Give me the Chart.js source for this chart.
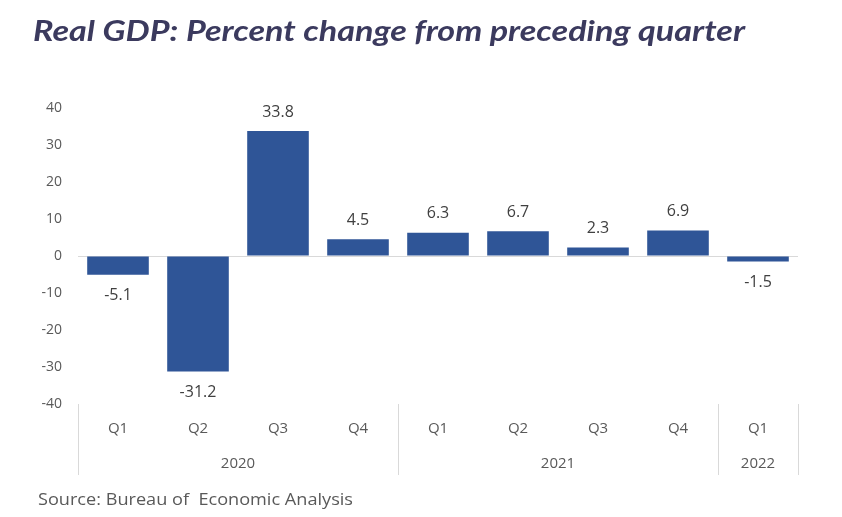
<!DOCTYPE html>
<html>
<head>
<meta charset="utf-8">
<script src="https://cdn.jsdelivr.net/npm/chart.js@4"></script>
<style>
  html,body{margin:0;padding:0;background:#fff;}
  #wrap{position:relative;width:842px;height:517px;}
  #title{position:absolute;left:33px;top:13px;font-family:Lato,"Open Sans",sans-serif;font-weight:700;font-style:italic;font-size:28px;color:#3B3A5E;white-space:nowrap;transform-origin:left top;}
  #source{position:absolute;left:38px;top:487px;font-family:"Open Sans",sans-serif;font-size:17px;color:#595959;white-space:pre;transform-origin:left top;}
  canvas{position:absolute;left:0;top:0;}
</style>
</head>
<body>
<div id="wrap">
  <canvas id="c" width="842" height="517"></canvas>
  <div id="title">Real GDP: Percent change from preceding quarter</div>
  <div id="source">Source: Bureau of  Economic Analysis</div>
</div>
<script>
const quarters = ["Q1","Q2","Q3","Q4","Q1","Q2","Q3","Q4","Q1"];
const years = ["2020","2020","2020","2020","2021","2021","2021","2021","2022"];
const gdpChange = [-5.1,-31.2,33.8,4.5,6.3,6.7,2.3,6.9,-1.5];
const yTicks = [-40,-30,-20,-10,0,10,20,30,40];

function fitWidth(id,target){
  const t=document.getElementById(id);
  const w=t.getBoundingClientRect().width;
  t.style.transform='scaleX('+(target/w)+')';
}
fitWidth('title',712);
fitWidth('source',315);

const fontFam = "'Open Sans', sans-serif";

const customPlugin = {
  id:'custom',
  afterDatasetsDraw(chart){
    const ctx=chart.ctx;
    const meta=chart.getDatasetMeta(0);
    ctx.save();
    ctx.font="16px "+fontFam;
    ctx.fillStyle="#404040";
    ctx.textAlign="center";
    ctx.textBaseline="middle";
    meta.data.forEach((bar,i)=>{
      const v=gdpChange[i];
      const yy = v>=0 ? bar.y-19 : bar.y+21;
      ctx.fillText(v.toFixed(1), bar.x, yy);
    });
    ctx.restore();
  },
  afterDraw(chart){
    const ctx=chart.ctx;
    const x=chart.scales.x;
    const area=chart.chartArea;
    ctx.save();
    const step=x.getPixelForValue(1)-x.getPixelForValue(0);
    const x0=x.getPixelForValue(0);
    const bottomY=area.bottom+71;
    ctx.strokeStyle="#D9D9D9";
    ctx.lineWidth=1;
    let groups=[];
    let start=0;
    for(let i=1;i<=years.length;i++){
      if(i===years.length || years[i]!==years[start]){
        groups.push({label:years[start],s:start,e:i-1});
        start=i;
      }
    }
    const edges=new Set();
    groups.forEach(g=>{edges.add(g.s-0.5);edges.add(g.e+0.5);});
    edges.forEach(v=>{
      const px=Math.round(x0+v*step)+0.5;
      ctx.beginPath();
      ctx.moveTo(px,area.bottom);
      ctx.lineTo(px,bottomY);
      ctx.stroke();
    });
    ctx.font="15px "+fontFam;
    ctx.fillStyle="#595959";
    ctx.textAlign="center";
    ctx.textBaseline="middle";
    groups.forEach(g=>{
      const cx=(x.getPixelForValue(g.s)+x.getPixelForValue(g.e))/2;
      ctx.fillText(g.label,cx,area.bottom+60);
    });
    ctx.restore();
  }
};

new Chart(document.getElementById('c'),{
  type:'bar',
  data:{
    labels:quarters,
    datasets:[{
      data:gdpChange,
      backgroundColor:'#2F5597',
      borderWidth:0,
      categoryPercentage:1,
      barPercentage:0.77
    }]
  },
  options:{
    responsive:false,
    animation:false,
    layout:{padding:{left:0,right:44,top:108,bottom:0}},
    plugins:{legend:{display:false},tooltip:{enabled:false},title:{display:false}},
    scales:{
      y:{
        min:-40,max:40,
        afterBuildTicks(s){s.ticks=yTicks.map(v=>({value:v}));},
        afterFit(s){s.width=78;},
        border:{display:false},
        grid:{
          drawTicks:false,
          color:(c)=>c.tick && c.tick.value===0 ? '#D9D9D9' : 'rgba(0,0,0,0)',
          lineWidth:1
        },
        ticks:{padding:16,color:'#595959',font:{family:"'Open Sans', sans-serif",size:14}}
      },
      x:{
        afterFit(s){s.height=113;},
        border:{display:false},
        grid:{display:false,drawTicks:false},
        ticks:{padding:16,color:'#595959',font:{family:"'Open Sans', sans-serif",size:15}}
      }
    }
  },
  plugins:[customPlugin]
});
</script>
</body>
</html>
